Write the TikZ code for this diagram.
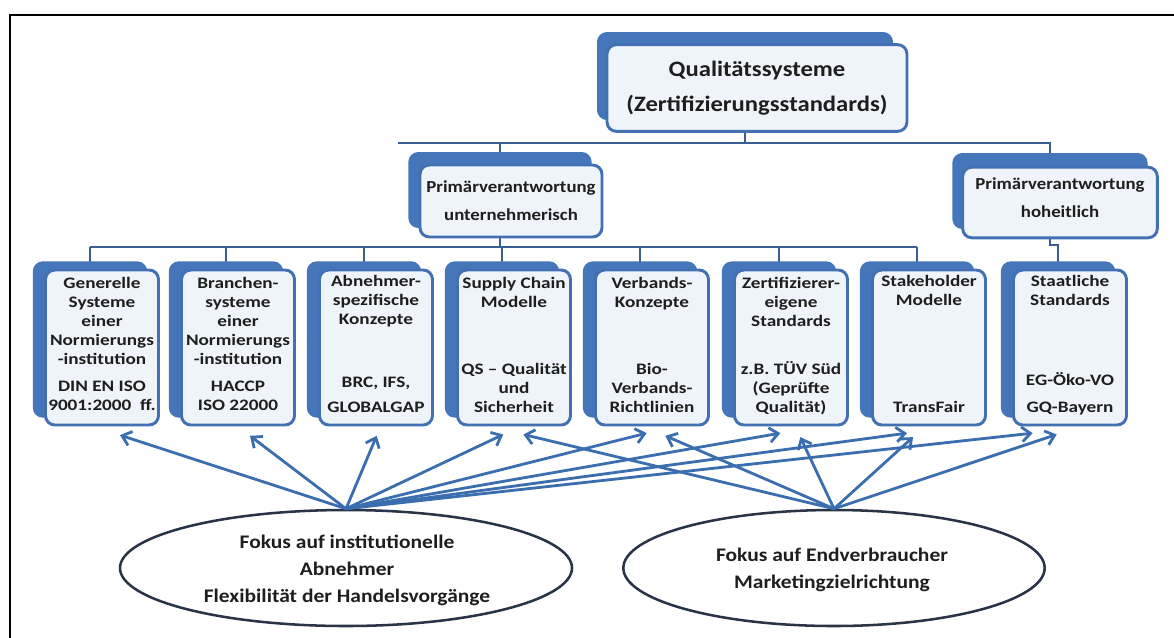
\documentclass[tikz,border=0pt]{standalone}
\usepackage{fontspec}
\setmainfont{Carlito}[FakeStretch=1.12]
\newfontfamily\cardfont{Carlito}[FakeStretch=1.2,Ligatures=TeX]
\usetikzlibrary{shapes.geometric,arrows.meta}
\definecolor{boxblue}{RGB}{66,112,178}
\definecolor{shadowblue}{RGB}{70,118,186}
\definecolor{frontfill}{RGB}{239,244,250}
\definecolor{connblue}{RGB}{58,94,145}
\definecolor{arrowblue}{RGB}{58,110,175}
\definecolor{ellgray}{RGB}{42,52,72}
\definecolor{txtgray}{RGB}{30,30,30}
\pgfdeclarelayer{bg}
\pgfsetlayers{bg,main}
\tikzset{
  front/.style={draw=boxblue, line width=2.2pt, fill=frontfill, rounded corners=7pt, inner sep=0pt},
  backbox/.style={draw=shadowblue, fill=shadowblue, line width=1pt, rounded corners=7pt, inner sep=0pt},
  cardsize/.style={minimum width=84.75pt, minimum height=116.25pt},
  conn/.style={draw=connblue, line width=1.8pt},
  arr/.style={draw=arrowblue, line width=2.1pt, -{Straight Barb[length=6.5pt,width=11pt,line width=2.1pt]}},
  focus/.style={ellipse, draw=ellgray, line width=1.9pt, fill=white, inner sep=0pt},
  txt/.style={align=center, inner sep=0pt, text=txtgray, font=\cardfont\bfseries\fontsize{12}{14.25}\selectfont},
  ptxt/.style={align=center, inner sep=0pt, text=txtgray, font=\bfseries\fontsize{12.6}{21}\selectfont},
  etxt/.style={align=center, inner sep=0pt, text=txtgray, font=\bfseries\fontsize{14.4}{20.25}\selectfont},
}
\begin{document}
\begin{tikzpicture}[x=0.75pt,y=-0.75pt]
\useasboundingbox (0,0) rectangle (1174,637);
\begin{pgfonlayer}{bg}
  \fill[white] (0,0) rectangle (1174,637);
\end{pgfonlayer}
\draw[black, line width=1.6pt] (10,15) rectangle (1200,660);

% top box
\node[backbox, minimum width=221pt, minimum height=65pt] (qs) at (745,76) {};
\node[front, minimum width=225pt, minimum height=65pt] (q) at (757,88) {};
\node[align=center, inner sep=0pt, text=txtgray, font=\bfseries\fontsize{16.5}{26.5}\selectfont] (qt) at (757,88)
  {Qualitätssysteme\\(Zertifizierungsstandards)};

% level 2
\node[backbox, minimum width=136.5pt, minimum height=56pt] (pus) at (500,190) {};
\node[front, minimum width=136.5pt, minimum height=54pt] (pu) at (511,201) {};
\node[ptxt] (put) at (511,201) {Primärverantwortung\\unternehmerisch};

\node[backbox, minimum width=145.5pt, minimum height=56pt] (phs) at (1050,191) {};
\node[front, minimum width=146pt, minimum height=53pt] (ph) at (1060,202.5) {};
\node[ptxt] (pht) at (1060,198) {Primärverantwortung\\hoheitlich};

% level 3 cards
\foreach \i/\cx in {1/102,2/238,3/376,4/514,5/652,6/791,7/929,8/1070}{
  \node[backbox, cardsize] (s\i) at (\cx-12,339.5) {};
  \node[front, cardsize] (b\i) at (\cx,347.5) {};
}

% card texts (top)
\node[txt, anchor=north] (t1) at (102,277) {Generelle\\Systeme\\einer\\Normierungs\\-institution};
\node[txt, anchor=north] (t2) at (238,277) {Branchen-\\systeme\\einer\\Normierungs\\-institution};
\node[txt, anchor=north] (t3) at (376,275) {Abnehmer-\\spezifische\\Konzepte};
\node[txt, anchor=north] (t4) at (514,277) {Supply Chain\\Modelle};
\node[txt, anchor=north] (t5) at (652,277) {Verbands-\\Konzepte};
\node[txt, anchor=north] (t6) at (791,277) {Zertifizierer-\\eigene\\Standards};
\node[txt, anchor=north] (t7) at (929,275) {Stakeholder\\Modelle};
\node[txt, anchor=north] (t8) at (1070,275) {Staatliche\\Standards};
% card texts (bottom)
\node[txt, anchor=south] (u1) at (102,411) {DIN EN ISO\\9001:2000~~ff.};
\node[txt, anchor=south] (u2) at (238,411) {HACCP\\ISO 22000};
\node[txt, anchor=south] (u3) at (376,413) {BRC, IFS,\\[4.5pt]GLOBALGAP};
\node[txt, anchor=south] (u4) at (514,413) {QS – Qualität\\und\\Sicherheit};
\node[txt, anchor=south] (u5) at (652,413) {Bio-\\Verbands-\\Richtlinien};
\node[txt, anchor=south] (u6) at (791,415) {z.B. TÜV Süd\\(Geprüfte\\Qualität)};
\node[txt, anchor=south] (u7) at (929,413) {TransFair};
\node[txt, anchor=south] (u8) at (1070,415) {EG-Öko-VO\\[6pt]GQ-Bayern};

% tree connectors (behind)
\coordinate (h1) at (398,143);
\coordinate (h2) at (88,247);
\coordinate (h3) at (1050,245);
\begin{pgfonlayer}{bg}
  \draw[conn] (qs.center) -- (qs.center |- h1);
  \draw[conn] (h1) -- (phs.center |- h1) -- (phs.center);
  \draw[conn] (pus.center |- h1) -- (pus.center);
  \draw[conn] (pus.center) -- (pus.center |- h2);
  \draw[conn] (s1.center |- h2) -- (s7.center |- h2);
  \foreach \i in {1,...,7}{ \draw[conn] (s\i.center |- h2) -- (s\i.center); }
  \draw[conn] (phs.center) -- (phs.center |- h3) -- (s8.center |- h3) -- (s8.center);
\end{pgfonlayer}

% focus ellipses
\node[focus, minimum width=339pt, minimum height=87pt] (eL) at (346,568) {};
\node[etxt] (eLt) at (347,570) {Fokus auf institutionelle\\Abnehmer\\Flexibilität der Handelsvorgänge};
\node[focus, minimum width=316pt, minimum height=87pt] (eR) at (834,568) {};
\node[etxt] (eRt) at (832,570) {Fokus auf Endverbraucher\\Marketingzielrichtung};

% arrows from left ellipse
\draw[arr] (eL.north) -- ([xshift=13.5pt,yshift=-6.5pt]b1.south);
\draw[arr] (eL.north) -- ([xshift=9pt,yshift=-7pt]b2.south);
\draw[arr] (eL.north) -- ([xshift=0.5pt,yshift=-7pt]b3.south);
\draw[arr] (eL.north) -- ([xshift=-8pt,yshift=-6pt]b4.south);
\draw[arr] (eL.north) -- ([xshift=-4pt,yshift=-5pt]b5.south);
\draw[arr] (eL.north) -- ([xshift=-8pt,yshift=-5pt]b6.south);
\draw[arr] (eL.north) -- ([xshift=-16.5pt,yshift=-5pt]b7.south);
\draw[arr] (eL.north) -- ([xshift=-28pt,yshift=-5pt]b8.south);
% arrows from right ellipse
\draw[arr] (eR.north) -- ([xshift=7pt,yshift=-6pt]b4.south);
\draw[arr] (eR.north) -- ([xshift=10pt,yshift=-7pt]b5.south);
\draw[arr] (eR.north) -- ([xshift=7pt,yshift=-8pt]b6.south);
\draw[arr] (eR.north) -- ([xshift=-12pt,yshift=-8pt]b7.south);
\draw[arr] (eR.north) -- ([xshift=-10pt,yshift=-6pt]b8.south);
\end{tikzpicture}
\end{document}
